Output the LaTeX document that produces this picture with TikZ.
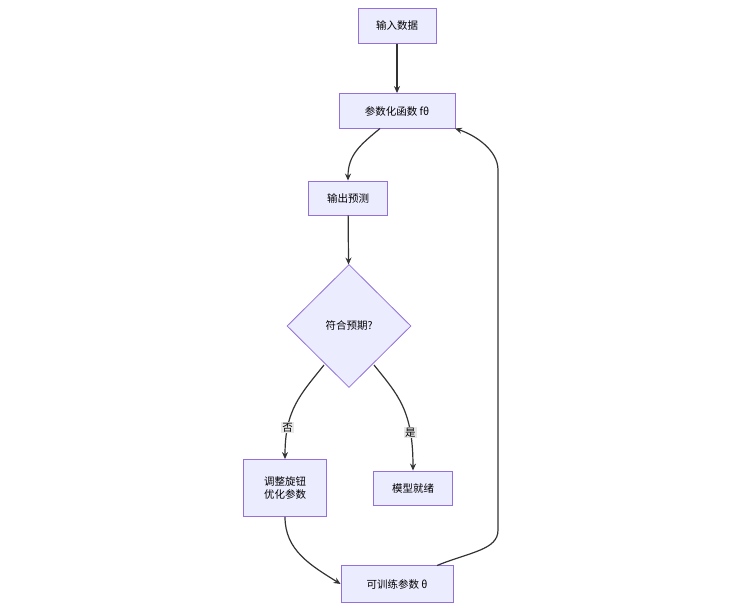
\documentclass[tikz,border=0pt]{standalone}
\usepackage{fontspec}
\setmainfont{Noto Sans CJK SC}
\usetikzlibrary{shapes.geometric,arrows.meta}
\begin{document}
\begin{tikzpicture}[x=1pt,y=-1pt,
 box/.style={draw=violet!60!purple!70!white,draw={rgb,255:red,147;green,112;blue,219},fill={rgb,255:red,236;green,236;blue,255},line width=0.8pt,font=\fontsize{10.5}{13}\selectfont,inner sep=0pt,align=center},
 ar/.style={draw={rgb,255:red,51;green,51;blue,51},line width=1.2pt,-{Stealth[length=7pt,width=6pt]}},
 lab/.style={fill={rgb,255:red,232;green,232;blue,232},font=\fontsize{10.5}{12}\selectfont,inner sep=1pt}]
\useasboundingbox (0,0) rectangle (746,610);
\node[box,minimum width=78,minimum height=35] (a) at (397,26) {输入数据};
\node[box,minimum width=116,minimum height=35] (b) at (397,111) {参数化函数 fθ};
\node[box,minimum width=79,minimum height=34] (c) at (348,198) {输出预测};
\node[box,diamond,minimum width=124,minimum height=123] (d) at (349,326) {符合预期?};
\node[box,minimum width=83,minimum height=57] (e) at (285,488) {调整旋钮\\优化参数};
\node[box,minimum width=79,minimum height=34] (f) at (413,488) {模型就绪};
\node[box,minimum width=112,minimum height=37] (g) at (397,584) {可训练参数 θ};
\draw[ar] (a) -- (b);
\draw[ar] (380,128.5) .. controls (360,145) and (348,155) .. (c.north);
\draw[ar] (c) -- (d);
\draw[ar] (324,365) .. controls (300,395) and (285,410) .. (e.north) node[lab,pos=0.75]{否};
\draw[ar] (374,365) .. controls (398,395) and (413,410) .. (f.north) node[lab,pos=0.75]{是};
\draw[ar] (e.south) .. controls (285,550) and (310,565) .. (g.west);
\draw[ar] (437,565.5) .. controls (470,552) and (498,550) .. (498,530) -- (498,170) .. controls (498,150) and (475,135) .. (455,128.5);
\end{tikzpicture}
\end{document}
